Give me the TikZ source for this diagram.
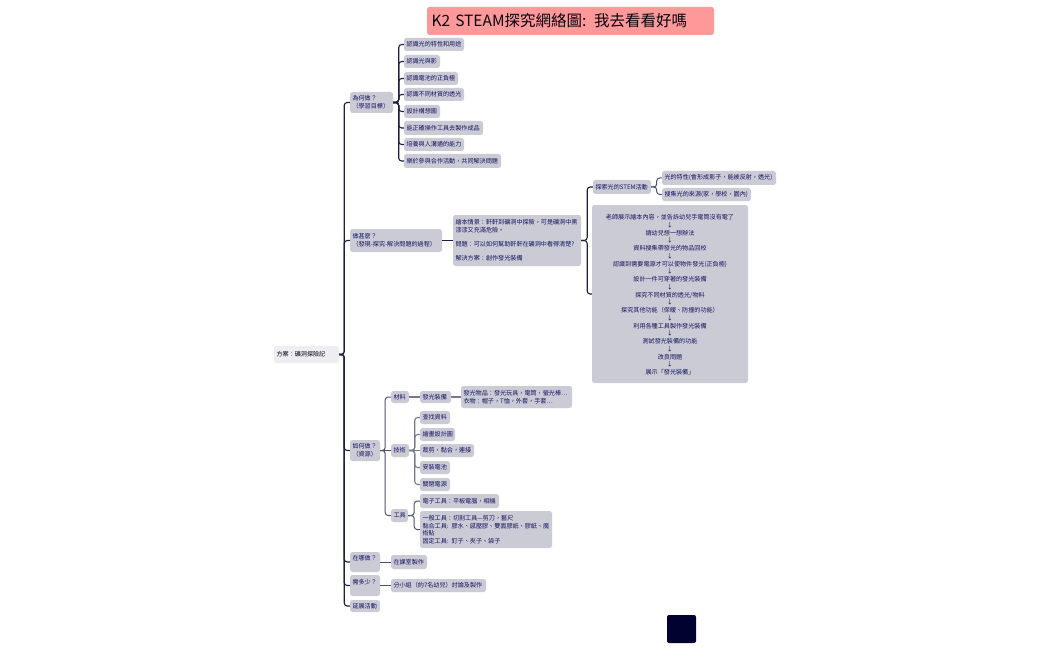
\documentclass[tikz,border=0pt]{standalone}
\usepackage{fontspec}
\setmainfont{Noto Sans CJK TC}
\definecolor{boxfill}{HTML}{CBCBD6}
\definecolor{rootfill}{HTML}{EEEDF1}
\definecolor{inkblue}{HTML}{12125E}
\definecolor{trunk}{HTML}{1E1E48}
\definecolor{midline}{HTML}{50506E}
\definecolor{greyline}{HTML}{77778F}
\definecolor{titlefill}{HTML}{FF9999}
\definecolor{markfill}{HTML}{020230}
\tikzset{
  x=1pt,y=-1pt,
  boxbase/.style={rounded corners=2.5pt,inner xsep=2.5pt,inner ysep=0pt,align=left,text=inkblue,
     font=\fontsize{6.1}{7.6}\selectfont},
  leaf/.style={boxbase,fill=boxfill},
  rootbox/.style={boxbase,fill=rootfill,text=black!80!inkblue},
  titlebox/.style={boxbase,fill=titlefill,text=black!85!inkblue,font=\fontsize{15.5}{18}\selectfont},
  centerbox/.style={boxbase,fill=boxfill,align=center,font=\fontsize{6.1}{7.75}\selectfont},
  markbox/.style={fill=markfill,rounded corners=2pt,draw=none},
  conn/.style={draw=trunk,line width=1.1pt,rounded corners=3pt},
  connmid/.style={draw=midline,line width=1pt,rounded corners=3pt},
  conngrey/.style={draw=greyline,line width=1.1pt,rounded corners=3pt},
}
\newcommand{\bx}[7][leaf]{%
  \pgfmathsetmacro{\bxw}{#5-#3}\pgfmathsetmacro{\bxh}{#6-#4}%
  \pgfmathsetmacro{\bxcx}{(#3+#5)/2}\pgfmathsetmacro{\bxcy}{(#4+#6)/2}%
  \pgfmathsetmacro{\bxtw}{#5-#3-5}%
  \node[#1,minimum height=\bxh pt,text width=\bxtw pt] (#2) at (\bxcx,\bxcy) {#7};}
\newcommand{\link}[4][conn]{\draw[#1] (#2.east) -- ++(#4,0) |- (#3.west);}
\newcommand{\straight}[3][conn]{\draw[#1] (#2.east) -- (#3.west);}
\begin{document}
\begin{tikzpicture}
\useasboundingbox (0,0) rectangle (1050,650);
\fill[white] (0,0) rectangle (1050,650);
\bx[titlebox]{title}{427}{7}{714}{35}{\hspace{2pt}K2 STEAM探究網絡圖: 我去看看好嗎}
\bx[rootbox]{root}{274}{346}{339}{363}{方案：礦洞探險記}
\bx{qa}{350}{92}{393}{113}{為何做？\\（學習目標）}
\bx{a1}{404}{38}{464}{51}{認識光的特性和用途}
\bx{a2}{404}{55}{440}{68}{認識光與影}
\bx{a3}{404}{72}{458}{85}{認識電池的正負極}
\bx{a4}{404}{88}{464}{101}{認識不同材質的透光}
\bx{a5}{404}{105}{440}{118}{設計構想圖}
\bx{a6}{404}{121}{483}{135}{能正確操作工具去製作成品}
\bx{a7}{404}{138}{464}{151}{培養與人溝通的能力}
\bx{a8}{404}{154}{501}{168}{樂於參與合作活動，共同解決問題}
\bx{qb}{350}{229}{442}{252}{做甚麼？\\（發現-探究-解決問題的過程）}
\bx{story}{453}{215}{581}{266}{繪本情景：軒軒到礦洞中探險，可是礦洞中黑\\漆漆又充滿危險。\\[6.5pt]問題：可以如何幫助軒軒在礦洞中看得清楚?\\[6.5pt]解決方案：創作發光裝備}
\bx{stem}{593}{180}{651}{194}{探索光的STEM活動}
\bx{s1}{662}{171}{776}{185}{光的特性(會形成影子，能被反射，透光)}
\bx{s2}{662}{188}{751}{201}{搜集光的來源(家，學校，園內)}
\bx[centerbox]{flow}{592}{205}{748}{383}{\rule{0pt}{7pt}老師展示繪本內容，並告訴幼兒手電筒沒有電了\\↓\\請幼兒想一想辦法\\↓\\資料搜集帶發光的物品回校\\↓\\認識到需要電源才可以使物件發光(正負極)\\↓\\設計一件可穿著的發光裝備\\↓\\探究不同材質的透光/物料\\↓\\探究其他功能（保暖、防撞的功能）\\↓\\利用各種工具製作發光裝備\\↓\\測試發光裝備的功能\\↓\\改良問題\\↓\\展示「發光裝備」}
\bx{qc}{350}{440}{380}{461}{如何做？\\（資源）}
\bx{m}{391}{391}{409}{403}{材料}
\bx{m1}{420}{391}{451}{403}{發光裝備}
\bx{m2}{461}{386}{572}{408}{發光物品：發光玩具，電筒，螢光棒…\\衣物：帽子，T恤，外套，手套…}
\bx{t}{391}{444}{409}{457}{技術}
\bx{t1}{420}{411}{450}{424}{查找資料}
\bx{t2}{420}{428}{455}{441}{繪畫設計圖}
\bx{t3}{420}{444}{474}{457}{裁剪，黏合，連接}
\bx{t4}{420}{461}{450}{474}{安裝電池}
\bx{t5}{420}{478}{450}{491}{關閉電源}
\bx{g}{391}{509}{408}{522}{工具}
\bx{g1}{420}{494}{499}{508}{電子工具：平板電腦，相機}
\bx{g2}{420}{511}{552}{548}{一般工具：切割工具—剪刀，藝尺\\黏合工具: 膠水、感壓膠、雙面膠紙、膠紙、魔\\術貼\\固定工具: 釘子、夾子、袋子}
\bx{qd}{350}{552}{380}{572}{在哪做？\\\mbox{}}
\bx{d1}{391}{555}{427}{569}{在課室製作}
\bx{qe}{350}{575}{380}{596}{需多少？\\\mbox{}}
\bx{e1}{391}{579}{486}{592}{分小組（約7名幼兒）討論及製作}
\bx{qf}{350}{600}{380}{612}{延展活動}
\node[markbox,minimum width=29pt,minimum height=28pt,inner sep=0pt] (mark) at (681.5,629) {};
\foreach \n in {qa,qb,qc,qd,qe,qf}{\link[conn]{root}{\n}{5}}
\foreach \n in {a1,a2,a3,a4,a5,a6,a7,a8}{\link[conn]{qa}{\n}{5.5}}
\straight[conn]{qb}{story}
\foreach \n in {stem,flow}{\link[conn]{story}{\n}{6}}
\foreach \n in {s1,s2}{\link[connmid]{stem}{\n}{5.5}}
\foreach \n in {m,g}{\link[connmid]{qc}{\n}{5}}
\straight[connmid]{qc}{t}
\straight[conngrey]{m}{m1}
\straight[conngrey]{m1}{m2}
\foreach \n in {t1,t2,t4,t5}{\link[conngrey]{t}{\n}{5.5}}
\straight[conngrey]{t}{t3}
\foreach \n in {g1,g2}{\link[connmid]{g}{\n}{6}}
\straight[connmid]{qd}{d1}
\straight[connmid]{qe}{e1}
\end{tikzpicture}
\end{document}
